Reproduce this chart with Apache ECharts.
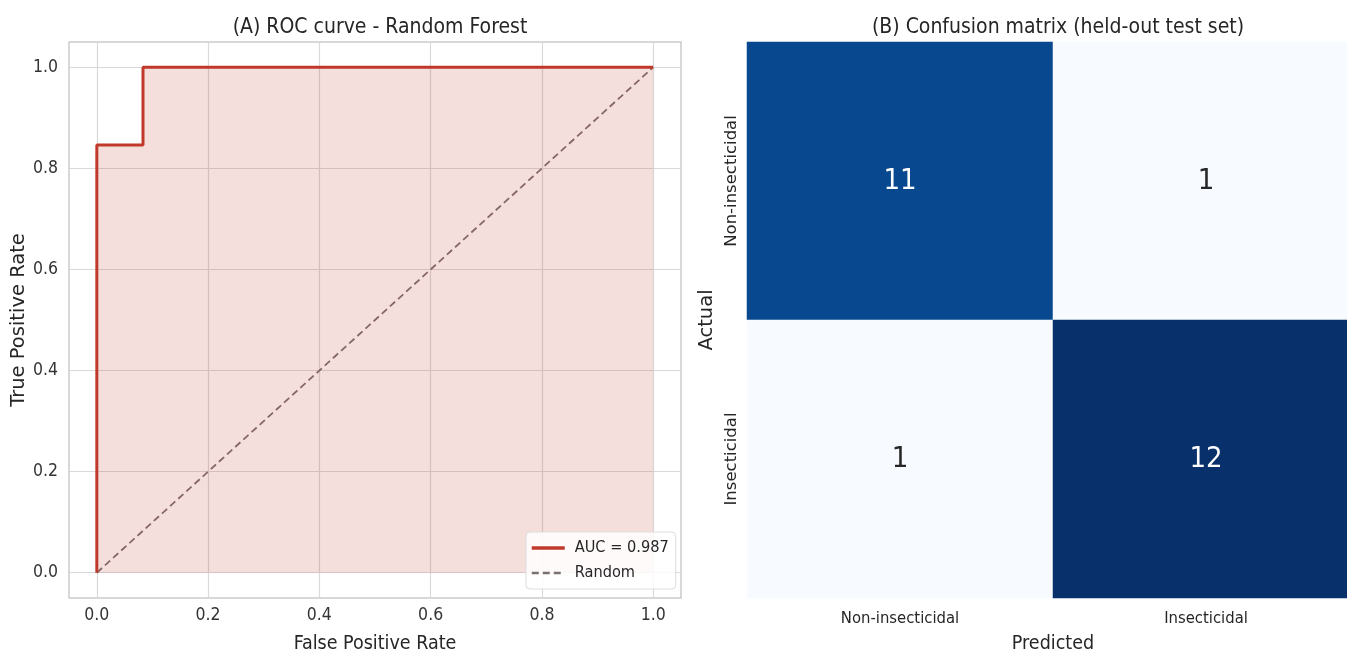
<!DOCTYPE html>
<html><head><meta charset="utf-8">
<script src="https://cdn.jsdelivr.net/npm/echarts@6/dist/echarts.min.js"></script>
<style>html,body{margin:0;padding:0;background:#fff;overflow:hidden}#c{width:1347px;height:651px}</style>
</head><body><div id="c"></div>
<script>
const fpr = [0, 0, 0.083, 0.083, 1];
const tpr = [0, 0.846, 0.846, 1, 1];
const diagX = [0, 1];
const diagY = [0, 1];
const rocTicks = [0, 0.2, 0.4, 0.6, 0.8, 1.0];
const classes = ['Non-insecticidal', 'Insecticidal'];
const confusion = [[11, 1], [1, 12]]; // rows: actual, cols: predicted
const aucLabel = 'AUC = 0.987';

const COND = '"DejaVu Sans Condensed", "DejaVu Sans", sans-serif';
const NORM = '"DejaVu Sans", sans-serif';
const txt = '#262626';

const heatData = [];
confusion.forEach((row, r) => row.forEach((v, c) => {
  heatData.push({ value: [c, r, v], label: { color: v > 6 ? '#ffffff' : txt } });
}));

const chart = echarts.init(document.getElementById('c'));
chart.setOption({
  animation: false,
  backgroundColor: '#fff',
  title: [
    { text: '(A) ROC curve - Random Forest', left: 375, top: 12, textAlign: 'center',
      textStyle: { fontFamily: COND, fontSize: 21, fontWeight: 'normal', color: txt } },
    { text: '(B) Confusion matrix (held-out test set)', left: 1053, top: 12, textAlign: 'center',
      textStyle: { fontFamily: COND, fontSize: 21, fontWeight: 'normal', color: txt } }
  ],
  grid: [
    { left: 69, top: 42, width: 612, height: 556, show: true, borderColor: '#cccccc', borderWidth: 1.5,
      backgroundColor: '#fff', outerBoundsMode: 'none', containLabel: false },
    { left: 747, top: 42, width: 612, height: 556, outerBoundsMode: 'none', containLabel: false }
  ],
  xAxis: [
    { type: 'value', gridIndex: 0, min: -0.05, max: 1.05,
      name: 'False Positive Rate', nameLocation: 'middle', nameGap: 36,
      nameTextStyle: { fontFamily: COND, fontSize: 19.5, color: txt },
      axisLine: { show: false }, axisTick: { show: false, customValues: rocTicks },
      axisLabel: { customValues: rocTicks, margin: 8, fontFamily: COND, fontSize: 17.5, color: '#333',
        formatter: v => v.toFixed(1) },
      splitLine: { show: true, lineStyle: { color: '#d9d9d9', width: 1.2 } } },
    { type: 'category', gridIndex: 1, data: classes, position: 'bottom',
      name: 'Predicted', nameLocation: 'middle', nameGap: 36,
      nameTextStyle: { fontFamily: COND, fontSize: 19.5, color: txt },
      axisLine: { show: false }, axisTick: { show: false }, splitLine: { show: false },
      axisLabel: { margin: 12, fontFamily: COND, fontSize: 16.5, color: txt } }
  ],
  yAxis: [
    { type: 'value', gridIndex: 0, min: -0.05, max: 1.05,
      name: 'True Positive Rate', nameLocation: 'middle', nameGap: 40,
      nameTextStyle: { fontFamily: NORM, fontSize: 19.5, color: txt },
      axisLine: { show: false }, axisTick: { show: false, customValues: rocTicks },
      axisLabel: { customValues: rocTicks, margin: 11, fontFamily: COND, fontSize: 17.5, color: '#333',
        formatter: v => v.toFixed(1) },
      splitLine: { show: true, lineStyle: { color: '#d9d9d9', width: 1.2 } } },
    { type: 'category', gridIndex: 1, data: classes, inverse: true,
      name: 'Actual', nameLocation: 'middle', nameGap: 30,
      nameTextStyle: { fontFamily: NORM, fontSize: 19.5, color: txt },
      axisLine: { show: false }, axisTick: { show: false }, splitLine: { show: false },
      axisLabel: { rotate: 90, margin: 7, fontFamily: NORM, fontSize: 16.5, color: txt } }
  ],
  legend: {
    left: 526, top: 532, orient: 'vertical', itemGap: 9, itemWidth: 33, itemHeight: 14,
    padding: [8, 7, 8, 4], backgroundColor: 'rgba(255,255,255,0.85)', borderColor: '#dddddd', borderWidth: 1, borderRadius: 4,
    itemStyle: { color: 'rgba(0,0,0,0)', borderColor: 'rgba(0,0,0,0)', borderWidth: 0 },
    textStyle: { fontFamily: COND, fontSize: 16.2, color: txt, padding: [0, 0, 0, 5] },
    data: [
      { name: aucLabel, lineStyle: { width: 3.5 } },
      { name: 'Random', lineStyle: { width: 2.4 } }
    ]
  },
  visualMap: {
    show: false, seriesIndex: 2, min: 1, max: 12, dimension: 2,
    inRange: { color: ['#f7fbff', '#deebf7', '#c6dbef', '#9ecae1', '#6baed6', '#4292c6', '#2171b5', '#08519c', '#08306b'] }
  },
  series: [
    { name: 'Random', type: 'line', xAxisIndex: 0, yAxisIndex: 0, symbol: 'none', z: 2,
      data: diagX.map((x, i) => [x, diagY[i]]),
      lineStyle: { color: '#7a7070', width: 1.8, type: [7, 4] },
      itemStyle: { color: '#7a7070' } },
    { name: aucLabel, type: 'line', xAxisIndex: 0, yAxisIndex: 0, symbol: 'none', z: 3,
      data: fpr.map((x, i) => [x, tpr[i]]),
      lineStyle: { color: '#c0392b', width: 3 }, itemStyle: { color: '#c0392b' },
      areaStyle: { color: '#c0392b', opacity: 0.16 } },
    { type: 'heatmap', xAxisIndex: 1, yAxisIndex: 1, data: heatData,
      label: { show: true, fontFamily: COND, fontSize: 29, formatter: p => String(p.value[2]) },
      itemStyle: { borderWidth: 0 }, emphasis: { disabled: true } }
  ]
});
</script></body></html>
